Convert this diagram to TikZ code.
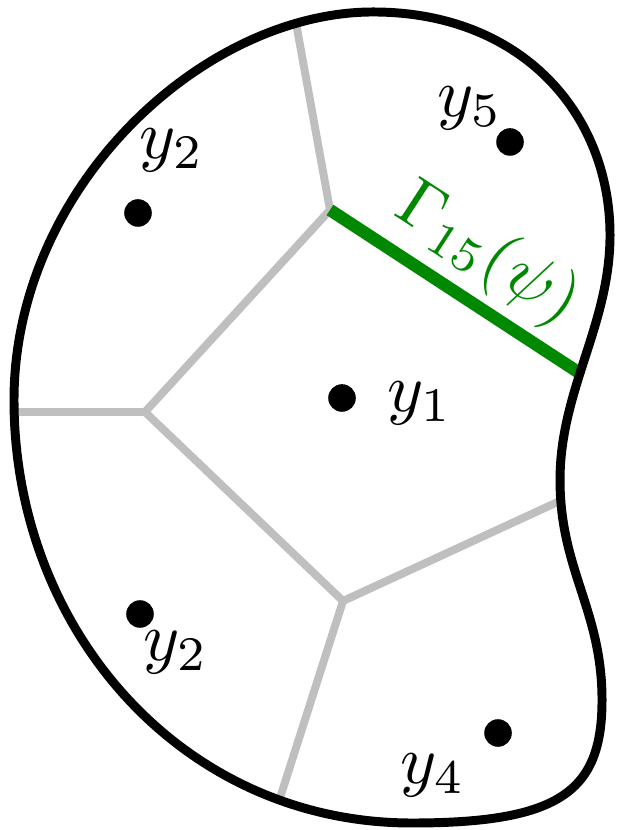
\documentclass[tikz,border=0pt]{standalone}
\usepackage{amsmath}
\usetikzlibrary{calc}
\definecolor{facetgreen}{RGB}{0,136,0}
\tikzset{
    border/.style={draw=black, line width=1.3pt, line join=round},
    voronoi/.style={draw=black!25, line width=1.15pt},
    facet/.style={draw=facetgreen, line width=1.8pt},
    site/.style={circle, fill=black, inner sep=0pt, minimum size=4pt},
    lbl/.style={inner sep=0pt}
}

\begin{document}
\begin{tikzpicture}[x=0.145pt, y=-0.145pt]
    \useasboundingbox (0,0) rectangle (616,830);
    % cell vertices and where the cells meet the boundary
    \coordinate (vA) at (330,210);
    \coordinate (vB) at (145,412);
    \coordinate (vC) at (343,601);
    \coordinate (bTop) at (296,23);
    \coordinate (bLeft) at (14,412);
    \coordinate (bRight) at (562,500);
    \coordinate (bBot) at (279,801);
    \coordinate (bGreen) at (581,374);
    \draw [voronoi] (bTop) -- (vA) -- (vB) -- (bLeft);
    \draw [voronoi] (vB) -- (vC) -- (bRight);
    \draw [voronoi] (vC) -- (bBot);
    \draw [facet] (vA) -- (bGreen);
    % the domain
    \draw [border] (373,12) .. controls (203,12) and (14,187) .. (14,400)
        .. controls (14,630) and (182,823) .. (412,823)
        .. controls (562,823) and (602,790) .. (602,700)
        .. controls (602,610) and (560,570) .. (560,480)
        .. controls (560,390) and (610,325) .. (610,235)
        .. controls (610,115) and (523,12) .. (373,12) -- cycle;
    % sites
    \node [site] (s1) at (342,398) {};
    \node [site] (s2) at (138,213) {};
    \node [site] (s3) at (140,614) {};
    \node [site] (s4) at (498,733) {};
    \node [site] (s5) at (510,142) {};
    \node [lbl] (l1) at (420,403) {$y_1$};
    \node [lbl] (l2) at (172,150) {$y_2$};
    \node [lbl] (l3) at (176,652) {$y_2$};
    \node [lbl] (l4) at (433,775) {$y_4$};
    \node [lbl] (l5) at (470,108) {$y_5$};
    \node [lbl, text=facetgreen, rotate=-33] (lg) at (487,255) {$\Gamma_{15}(\psi)$};
\end{tikzpicture}
\end{document}
